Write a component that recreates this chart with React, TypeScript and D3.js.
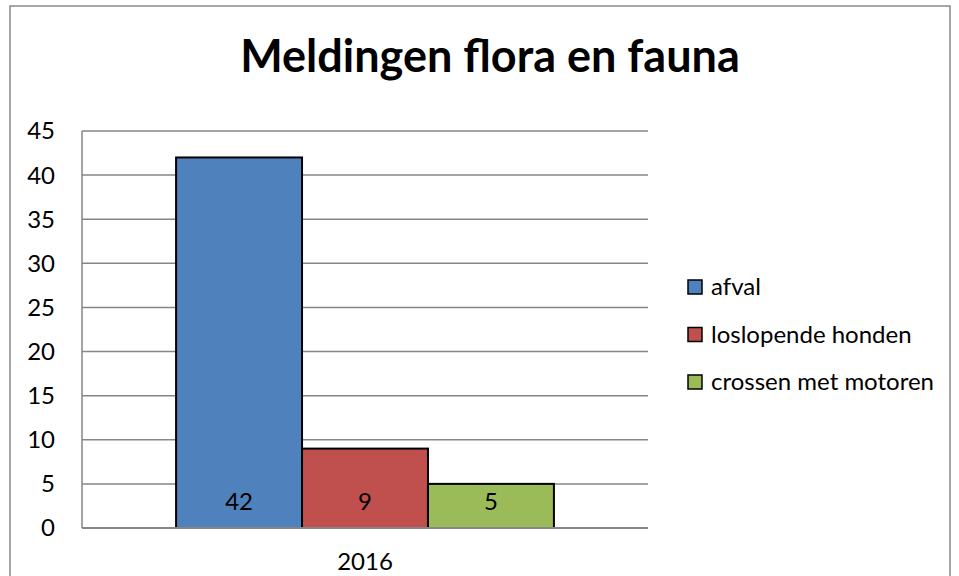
import * as d3 from 'd3'

const categories = ['2016']
const seriesNames = ['afval', 'loslopende honden', 'crossen met motoren']
const seriesValues = [42, 9, 5]
const seriesColors = ['#4F81BD', '#C0504D', '#9BBB59']
const yTicks = [0, 5, 10, 15, 20, 25, 30, 35, 40, 45]

const W = 959
const H = 576
const margin = { top: 131, right: 311, bottom: 48, left: 82 }
const font = 'Lato, "Open Sans", sans-serif'

export default function App() {
  const plotW = W - margin.left - margin.right
  const plotH = H - margin.top - margin.bottom

  const x = d3.scaleBand().domain(categories).range([0, plotW]).paddingInner(0).paddingOuter(0.249)
  const inner = d3.scaleBand().domain(seriesNames).range([0, x.bandwidth()])
  const y = d3.scaleLinear().domain([0, 45]).range([plotH, 0])

  return (
    <svg width={W} height={H} style={{ position: 'absolute', left: 0, top: 0, background: '#fff' }} fontFamily={font}>
      <rect x={10} y={6} width={940} height={600} fill="#fff" stroke="#888" strokeWidth={1.5} />
      <text x={490} y={72} textAnchor="middle" fontSize={45} fontWeight="bold" fill="#000">
        Meldingen flora en fauna
      </text>
      <g transform={`translate(${margin.left},${margin.top})`}>
        {yTicks.map(t => (
          <g key={t}>
            <line x1={0} x2={plotW} y1={y(t)} y2={y(t)} stroke="#868686" strokeWidth={1.5} />
            <text x={-27} y={y(t)} dy="0.35em" textAnchor="end" fontSize={24} fill="#000">{t}</text>
          </g>
        ))}
        <line x1={0} x2={0} y1={0} y2={plotH} stroke="#868686" strokeWidth={1.5} />
        {categories.map(c => (
          <g key={c}>
            {seriesNames.map((s, i) => {
              const bx = (x(c) ?? 0) + (inner(s) ?? 0)
              return (
                <g key={s}>
                  <rect
                    x={bx}
                    y={y(seriesValues[i])}
                    width={inner.bandwidth()}
                    height={plotH - y(seriesValues[i])}
                    fill={seriesColors[i]}
                    stroke="#000"
                    strokeWidth={2}
                  />
                  <text x={bx + inner.bandwidth() / 2} y={plotH - 26} dy="0.35em" textAnchor="middle" fontSize={24} fill="#000">
                    {seriesValues[i]}
                  </text>
                </g>
              )
            })}
            <text x={(x(c) ?? 0) + x.bandwidth() / 2} y={plotH + 34} dy="0.35em" textAnchor="middle" fontSize={24} fill="#000">
              {c}
            </text>
          </g>
        ))}
        <line x1={0} x2={plotW} y1={plotH} y2={plotH} stroke="#868686" strokeWidth={2} />
      </g>
      <g transform="translate(688,287)">
        {seriesNames.map((s, i) => (
          <g key={s} transform={`translate(0,${i * 47.5})`}>
            <rect x={0} y={-7} width={14} height={14} fill={seriesColors[i]} stroke="#000" strokeWidth={1.5} />
            <text x={23} y={0} dy="0.35em" fontSize={24} fill="#000">{s}</text>
          </g>
        ))}
      </g>
    </svg>
  )
}
